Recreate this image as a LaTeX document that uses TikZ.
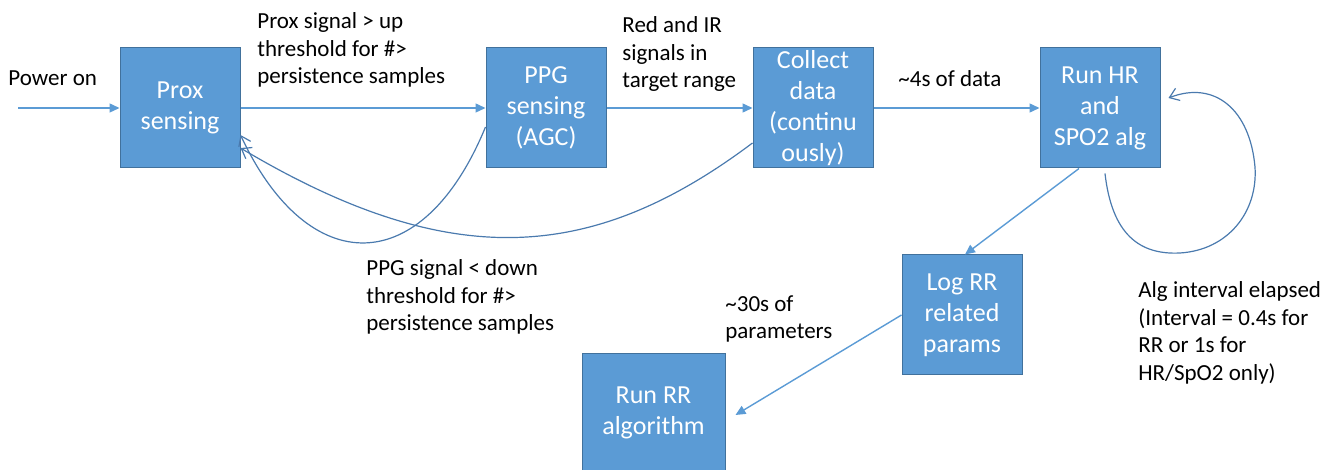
\documentclass[tikz,border=0pt]{standalone}
\usepackage{fontspec}
\setmainfont{Carlito}
\usetikzlibrary{arrows.meta}

\definecolor{boxblue}{HTML}{5B9BD5}
\definecolor{boxedge}{HTML}{41719C}
\definecolor{loopblue}{HTML}{4A7AAE}

\tikzset{
    stage/.style = {draw = boxedge, line width = 0.5pt, fill = boxblue, text = white,
        minimum width = 60pt, minimum height = 60pt, inner sep = 0pt, align = center,
        font = \fontsize{13}{15.5}\selectfont},
    note/.style = {anchor = west, inner sep = 0pt, align = left,
        font = \fontsize{11.5}{13.75}\selectfont},
    flow/.style = {draw = boxblue, line width = 0.7pt, -{Triangle[length = 5pt, width = 4.5pt]}},
    back/.style = {draw = loopblue, line width = 0.6pt, -{Straight Barb[length = 4.5pt, width = 6.5pt]}}
}

\begin{document}
\begin{tikzpicture}[x = 0.5pt, y = -0.5pt]
    \useasboundingbox (0,0) rectangle (1340,470);

    % stages
    \node[stage] (prox) at (180,108) {Prox\\sensing};
    \node[stage] (ppg) at (546,108) {PPG\\sensing\\(AGC)};
    \node[stage] (collect) at (813,108) {Collect\\data\\(continu\\ously)};
    \node[stage] (runhr) at (1100,108) {Run HR\\and\\SPO2 alg};
    \node[stage] (logrr) at (962,315) {Log RR\\related\\params};
    \node[stage, minimum width = 71.5pt, minimum height = 59pt] (runrr) at (653.5,413) {Run RR\\algorithm};

    \coordinate (poweron) at (18,108);

    % labels
    \node[note] (pwrtxt) at (8,78) {Power on};
    \node[note] (uptxt) at (257,50) {Prox signal > up\\threshold for \#>\\persistence samples};
    \node[note] (rangetxt) at (622,54) {Red and IR\\signals in\\target range};
    \node[note] (datatxt) at (898,79) {\textasciitilde4s of data};
    \node[note] (downtxt) at (366,297) {PPG signal < down\\threshold for \#>\\persistence samples};
    \node[note] (paramtxt) at (725,319) {\textasciitilde30s of\\parameters};
    \node[note] (looptxt) at (1138,333) {Alg interval elapsed\\(Interval = 0.4s for\\RR or 1s for\\HR/SpO2 only)};

    % forward flow
    \draw[flow] (poweron) -- (prox);
    \draw[flow] (prox) -- (ppg);
    \draw[flow] (ppg) -- (collect);
    \draw[flow] (collect) -- (runhr);
    \draw[flow] ([xshift = -10.5pt]runhr.south) -- ([xshift = 1.5pt]logrr.north);
    \draw[flow] (logrr.west) -- ([xshift = 5pt, yshift = -1pt]runrr.east);

    % going back
    \draw[back] ([yshift = -9.5pt]ppg.west) .. controls +(-63,153) and +(68,145) .. ([yshift = -13.5pt]prox.east);
    \draw[back] ([yshift = -17.5pt]collect.west) .. controls +(-160,120) and +(210,125) .. ([yshift = -20pt]prox.east);
    \draw[back] ([xshift = 2.5pt, yshift = -2.5pt]runhr.south)
        .. controls (1112,235) and (1140,255) .. (1180,253)
        .. controls (1228,250) and (1258,212) .. (1255,167)
        .. controls (1250,110) and (1215,80) .. ([xshift = 4pt, yshift = 5pt]runhr.east);
\end{tikzpicture}
\end{document}
